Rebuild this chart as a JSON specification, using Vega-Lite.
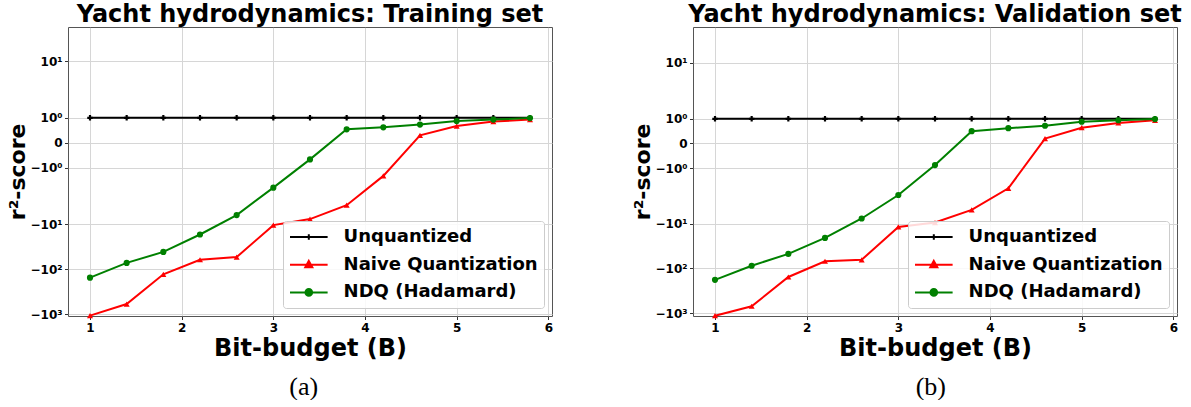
{
  "$schema": "https://vega.github.io/schema/vega-lite/v6.json",
  "background": "white",
  "padding": {"left": 6, "top": 2, "right": 0, "bottom": 0},
  "datasets": {
    "train": [
      {"series": "Unquantized", "bits": 1.0, "r2": 0.99},
      {"series": "Unquantized", "bits": 1.4, "r2": 0.99},
      {"series": "Unquantized", "bits": 1.8, "r2": 0.99},
      {"series": "Unquantized", "bits": 2.2, "r2": 0.99},
      {"series": "Unquantized", "bits": 2.6, "r2": 0.99},
      {"series": "Unquantized", "bits": 3.0, "r2": 0.99},
      {"series": "Unquantized", "bits": 3.4, "r2": 0.99},
      {"series": "Unquantized", "bits": 3.8, "r2": 0.99},
      {"series": "Unquantized", "bits": 4.2, "r2": 0.99},
      {"series": "Unquantized", "bits": 4.6, "r2": 0.99},
      {"series": "Unquantized", "bits": 5.0, "r2": 0.99},
      {"series": "Unquantized", "bits": 5.4, "r2": 0.99},
      {"series": "Unquantized", "bits": 5.8, "r2": 0.99},
      {"series": "Naive Quantization", "bits": 1.0, "r2": -1070},
      {"series": "Naive Quantization", "bits": 1.4, "r2": -600},
      {"series": "Naive Quantization", "bits": 1.8, "r2": -132},
      {"series": "Naive Quantization", "bits": 2.2, "r2": -62.4},
      {"series": "Naive Quantization", "bits": 2.6, "r2": -54.3},
      {"series": "Naive Quantization", "bits": 3.0, "r2": -10.6},
      {"series": "Naive Quantization", "bits": 3.4, "r2": -7.8},
      {"series": "Naive Quantization", "bits": 3.8, "r2": -3.81},
      {"series": "Naive Quantization", "bits": 4.2, "r2": -1.33},
      {"series": "Naive Quantization", "bits": 4.6, "r2": 0.29},
      {"series": "Naive Quantization", "bits": 5.0, "r2": 0.66},
      {"series": "Naive Quantization", "bits": 5.4, "r2": 0.84},
      {"series": "Naive Quantization", "bits": 5.8, "r2": 0.92},
      {"series": "NDQ (Hadamard)", "bits": 1.0, "r2": -154},
      {"series": "NDQ (Hadamard)", "bits": 1.4, "r2": -72.7},
      {"series": "NDQ (Hadamard)", "bits": 1.8, "r2": -41.4},
      {"series": "NDQ (Hadamard)", "bits": 2.2, "r2": -17.1},
      {"series": "NDQ (Hadamard)", "bits": 2.6, "r2": -6.35},
      {"series": "NDQ (Hadamard)", "bits": 3.0, "r2": -1.8},
      {"series": "NDQ (Hadamard)", "bits": 3.4, "r2": -0.67},
      {"series": "NDQ (Hadamard)", "bits": 3.8, "r2": 0.53},
      {"series": "NDQ (Hadamard)", "bits": 4.2, "r2": 0.61},
      {"series": "NDQ (Hadamard)", "bits": 4.6, "r2": 0.72},
      {"series": "NDQ (Hadamard)", "bits": 5.0, "r2": 0.86},
      {"series": "NDQ (Hadamard)", "bits": 5.4, "r2": 0.92},
      {"series": "NDQ (Hadamard)", "bits": 5.8, "r2": 0.98}
    ],
    "valid": [
      {"series": "Unquantized", "bits": 1.0, "r2": 0.99},
      {"series": "Unquantized", "bits": 1.4, "r2": 0.99},
      {"series": "Unquantized", "bits": 1.8, "r2": 0.99},
      {"series": "Unquantized", "bits": 2.2, "r2": 0.99},
      {"series": "Unquantized", "bits": 2.6, "r2": 0.99},
      {"series": "Unquantized", "bits": 3.0, "r2": 0.99},
      {"series": "Unquantized", "bits": 3.4, "r2": 0.99},
      {"series": "Unquantized", "bits": 3.8, "r2": 0.99},
      {"series": "Unquantized", "bits": 4.2, "r2": 0.99},
      {"series": "Unquantized", "bits": 4.6, "r2": 0.99},
      {"series": "Unquantized", "bits": 5.0, "r2": 0.99},
      {"series": "Unquantized", "bits": 5.4, "r2": 0.99},
      {"series": "Unquantized", "bits": 5.8, "r2": 0.99},
      {"series": "Naive Quantization", "bits": 1.0, "r2": -1150},
      {"series": "Naive Quantization", "bits": 1.4, "r2": -707},
      {"series": "Naive Quantization", "bits": 1.8, "r2": -156},
      {"series": "Naive Quantization", "bits": 2.2, "r2": -69.1},
      {"series": "Naive Quantization", "bits": 2.6, "r2": -64.6},
      {"series": "Naive Quantization", "bits": 3.0, "r2": -11.9},
      {"series": "Naive Quantization", "bits": 3.4, "r2": -9.4},
      {"series": "Naive Quantization", "bits": 3.8, "r2": -4.87},
      {"series": "Naive Quantization", "bits": 4.2, "r2": -1.82},
      {"series": "Naive Quantization", "bits": 4.6, "r2": 0.19},
      {"series": "Naive Quantization", "bits": 5.0, "r2": 0.63},
      {"series": "Naive Quantization", "bits": 5.4, "r2": 0.82},
      {"series": "Naive Quantization", "bits": 5.8, "r2": 0.93},
      {"series": "NDQ (Hadamard)", "bits": 1.0, "r2": -182},
      {"series": "NDQ (Hadamard)", "bits": 1.4, "r2": -88.1},
      {"series": "NDQ (Hadamard)", "bits": 1.8, "r2": -47.4},
      {"series": "NDQ (Hadamard)", "bits": 2.2, "r2": -20.7},
      {"series": "NDQ (Hadamard)", "bits": 2.6, "r2": -7.63},
      {"series": "NDQ (Hadamard)", "bits": 3.0, "r2": -2.28},
      {"series": "NDQ (Hadamard)", "bits": 3.4, "r2": -0.88},
      {"series": "NDQ (Hadamard)", "bits": 3.8, "r2": 0.49},
      {"series": "NDQ (Hadamard)", "bits": 4.2, "r2": 0.61},
      {"series": "NDQ (Hadamard)", "bits": 4.6, "r2": 0.71},
      {"series": "NDQ (Hadamard)", "bits": 5.0, "r2": 0.87},
      {"series": "NDQ (Hadamard)", "bits": 5.4, "r2": 0.93},
      {"series": "NDQ (Hadamard)", "bits": 5.8, "r2": 0.98}
    ]
  },
  "config": {
    "font": "DejaVu Sans",
    "view": {"stroke": "#555555", "strokeWidth": 1},
    "axis": {
      "labelFont": "DejaVu Sans",
      "labelFontWeight": "bold",
      "labelFontSize": 12,
      "labelColor": "black",
      "titleFont": "DejaVu Sans",
      "titleFontWeight": "bold",
      "titleFontSize": 24,
      "titleColor": "black",
      "gridColor": "#d6d6d6",
      "gridWidth": 1,
      "tickColor": "#333333",
      "tickSize": 3.5,
      "domain": false,
      "labelPadding": 2.5
    },
    "axisY": {"titleBaseline": "alphabetic", "titlePadding": 5, "titleFontSize": 22},
    "axisX": {"titlePadding": 3},
    "legend": {
      "orient": "bottom-right", "offset": 8.5,
      "fillColor": "rgba(255,255,255,0.85)", "strokeColor": "#cccccc", "cornerRadius": 3,
      "padding": 6, "rowPadding": 8.7,
      "labelFont": "DejaVu Sans", "labelFontWeight": "bold", "labelFontSize": 18, "labelColor": "black",
      "labelOffset": 34.6, "labelLimit": 300, "symbolSize": 324
    },
    "title": {"font": "DejaVu Sans", "fontWeight": "bold", "fontSize": 24, "color": "black"}
  },
  "resolve": {"legend": {"color": "independent"}, "scale": {"color": "independent", "y": "independent"}},
  "spacing": 77,
  "hconcat": [
    {
      "title": {"text": "(a)", "orient": "bottom", "anchor": "middle", "frame": "bounds", "dx": 24, "font": "Liberation Serif", "fontWeight": "normal", "fontSize": 26, "offset": 13},
      "resolve": {"legend": {"color": "independent"}},
      "vconcat": [
        {
          "title": {"text": "Yacht hydrodynamics: Training set", "anchor": "middle", "frame": "group", "offset": 0},
          "width": 484,
          "height": 289,
          "data": {"name": "train"},
          "encoding": {
            "x": {"field": "bits", "type": "quantitative",
                  "scale": {"domain": [0.76, 6.04], "nice": false, "zero": false},
                  "axis": {"values": [1, 2, 3, 4, 5, 6], "title": "Bit-budget (B)"}},
            "y": {"field": "r2", "type": "quantitative",
                  "scale": {"nice": false, "zero": false,
                    "domain": [-1073, -1000, -700, -500, -400, -300, -200, -150, -100, -70, -50, -40, -30, -20, -15, -10, -7, -5, -4, -3, -2, 2, 3, 4, 5, 7, 10, 15, 20, 30, 40, 50, 57],
                    "range": [288.7, 287.32, 280.34, 273.75, 269.39, 263.75, 255.82, 250.19, 242.25, 235.27, 228.68, 224.32, 218.68, 210.75, 205.12, 197.18, 190.2, 183.61, 179.25, 173.61, 165.68, 65.52, 57.59, 51.95, 47.59, 41.0, 34.02, 26.08, 20.45, 12.52, 6.88, 2.52, 0]},
                  "axis": {"values": [10, 1, 0, -1, -10, -100, -1000], "title": "r²-score",
                    "labelExpr": "datum.value == 10 ? '10¹' : datum.value == 1 ? '10⁰' : datum.value == 0 ? '0' : datum.value == -1 ? '−10⁰' : datum.value == -10 ? '−10¹' : datum.value == -100 ? '−10²' : '−10³'"}},
            "color": {"field": "series", "type": "nominal",
                      "scale": {"domain": ["Unquantized", "Naive Quantization", "NDQ (Hadamard)"], "range": ["#000000", "#ff0000", "#008000"]},
                      "legend": {
                        "title": null,
                        "encode": {"symbols": {"update": {
                          "shape": {"signal": "datum.value === 'Unquantized' ? 'M-1,0H3.18M1.09,-0.3V0.3M0.79,0H1.39' : datum.value === 'Naive Quantization' ? 'M-1,0H3.18M1.09,-0.42L1.48,0.28L0.7,0.28Z' : 'M-1,0H3.18M1.46,0A0.37,0.37 0 1,1 0.72,0A0.37,0.37 0 1,1 1.46,0Z'"},
                          "fill": {"signal": "datum.value === 'Unquantized' ? '#000000' : datum.value === 'Naive Quantization' ? '#ff0000' : '#008000'"},
                          "stroke": {"signal": "datum.value === 'Unquantized' ? '#000000' : datum.value === 'Naive Quantization' ? '#ff0000' : '#008000'"},
                          "strokeWidth": {"value": 2},
                          "opacity": {"value": 1}
                        }}}
                      }}
          },
          "layer": [
            {"mark": {"type": "line", "strokeWidth": 2}},
            {"transform": [{"filter": "datum.series === 'Unquantized'"}],
             "mark": {"type": "point", "shape": "cross", "filled": true, "opacity": 1, "size": 30}},
            {"transform": [{"filter": "datum.series === 'Naive Quantization'"}],
             "mark": {"type": "point", "shape": "triangle-up", "filled": true, "opacity": 1, "size": 36}},
            {"transform": [{"filter": "datum.series === 'NDQ (Hadamard)'"}],
             "mark": {"type": "point", "shape": "circle", "filled": true, "opacity": 1, "size": 38}}
          ]
        }
      ]
    },
    {
      "title": {"text": "(b)", "orient": "bottom", "anchor": "middle", "frame": "bounds", "dx": 24, "font": "Liberation Serif", "fontWeight": "normal", "fontSize": 26, "offset": 13},
      "resolve": {"legend": {"color": "independent"}},
      "vconcat": [
        {
          "title": {"text": "Yacht hydrodynamics: Validation set", "anchor": "middle", "frame": "group", "offset": 0},
          "width": 484,
          "height": 289,
          "data": {"name": "valid"},
          "encoding": {
            "x": {"field": "bits", "type": "quantitative",
                  "scale": {"domain": [0.76, 6.04], "nice": false, "zero": false},
                  "axis": {"values": [1, 2, 3, 4, 5, 6], "title": "Bit-budget (B)"}},
            "y": {"field": "r2", "type": "quantitative",
                  "scale": {"nice": false, "zero": false,
                    "domain": [-1150, -1000, -700, -500, -400, -300, -200, -150, -100, -70, -50, -40, -30, -20, -15, -10, -7, -5, -4, -3, -2, 2, 3, 4, 5, 7, 10, 15, 20, 30, 40, 50, 63.2],
                    "range": [288.7, 286.0, 279.1, 272.59, 268.28, 262.71, 254.87, 249.31, 241.46, 234.56, 228.05, 223.74, 218.17, 210.33, 204.76, 196.92, 190.02, 183.51, 179.2, 173.63, 165.79, 66.81, 58.97, 53.4, 49.09, 42.58, 35.68, 27.84, 22.27, 14.43, 8.86, 4.55, 0]},
                  "axis": {"values": [10, 1, 0, -1, -10, -100, -1000], "title": "r²-score",
                    "labelExpr": "datum.value == 10 ? '10¹' : datum.value == 1 ? '10⁰' : datum.value == 0 ? '0' : datum.value == -1 ? '−10⁰' : datum.value == -10 ? '−10¹' : datum.value == -100 ? '−10²' : '−10³'"}},
            "color": {"field": "series", "type": "nominal",
                      "scale": {"domain": ["Unquantized", "Naive Quantization", "NDQ (Hadamard)"], "range": ["#000000", "#ff0000", "#008000"]},
                      "legend": {
                        "title": null,
                        "encode": {"symbols": {"update": {
                          "shape": {"signal": "datum.value === 'Unquantized' ? 'M-1,0H3.18M1.09,-0.3V0.3M0.79,0H1.39' : datum.value === 'Naive Quantization' ? 'M-1,0H3.18M1.09,-0.42L1.48,0.28L0.7,0.28Z' : 'M-1,0H3.18M1.46,0A0.37,0.37 0 1,1 0.72,0A0.37,0.37 0 1,1 1.46,0Z'"},
                          "fill": {"signal": "datum.value === 'Unquantized' ? '#000000' : datum.value === 'Naive Quantization' ? '#ff0000' : '#008000'"},
                          "stroke": {"signal": "datum.value === 'Unquantized' ? '#000000' : datum.value === 'Naive Quantization' ? '#ff0000' : '#008000'"},
                          "strokeWidth": {"value": 2},
                          "opacity": {"value": 1}
                        }}}
                      }}
          },
          "layer": [
            {"mark": {"type": "line", "strokeWidth": 2}},
            {"transform": [{"filter": "datum.series === 'Unquantized'"}],
             "mark": {"type": "point", "shape": "cross", "filled": true, "opacity": 1, "size": 30}},
            {"transform": [{"filter": "datum.series === 'Naive Quantization'"}],
             "mark": {"type": "point", "shape": "triangle-up", "filled": true, "opacity": 1, "size": 36}},
            {"transform": [{"filter": "datum.series === 'NDQ (Hadamard)'"}],
             "mark": {"type": "point", "shape": "circle", "filled": true, "opacity": 1, "size": 38}}
          ]
        }
      ]
    }
  ]
}
